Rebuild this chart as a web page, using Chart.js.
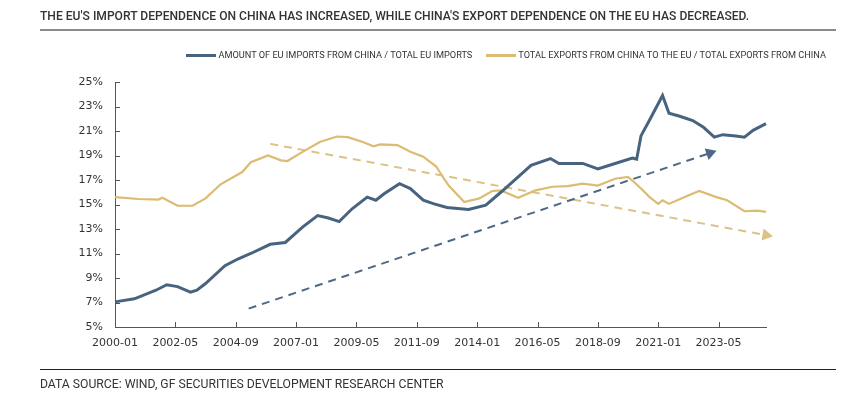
<!DOCTYPE html>
<html>
<head>
<meta charset="utf-8">
<script src="https://cdn.jsdelivr.net/npm/chart.js@4.4.1/dist/chart.umd.min.js"></script>
<style>
  body { margin: 0; background: #fff; }
  #wrap { position: relative; width: 856px; height: 395px; overflow: hidden; }
  #title { position: absolute; left: 40px; top: 9px; font: 500 12.1px "Roboto", sans-serif; color: #333; white-space: nowrap; }
  #rule { position: absolute; left: 40px; top: 29px; width: 796px; height: 2px; background: #8a8a8a; }
  #legend { position: absolute; right: 30px; top: 49px; font: 9.2px "Roboto", sans-serif; color: #333; white-space: nowrap; }
  #legend span.sw { display: inline-block; width: 30px; height: 3px; vertical-align: middle; margin-right: 2px; }
  #legend span.item { margin-left: 14px; }
  #foot-rule { position: absolute; left: 40px; top: 369px; width: 796px; height: 1px; background: #222; }
  #source { position: absolute; left: 40px; top: 377px; font: 12.2px "Roboto", sans-serif; color: #333; white-space: nowrap; }
  #chart-box { position: absolute; left: 0; top: 0; width: 856px; height: 395px; }
</style>
</head>
<body>
<div id="wrap">
  <div id="chart-box"><canvas id="dependence-chart"></canvas></div>
  <div id="title">THE EU'S IMPORT DEPENDENCE ON CHINA HAS INCREASED, WHILE CHINA'S EXPORT DEPENDENCE ON THE EU HAS DECREASED.</div>
  <div id="rule"></div>
  <div id="legend"></div>
  <div id="foot-rule"></div>
  <div id="source">DATA SOURCE: WIND, GF SECURITIES DEVELOPMENT RESEARCH CENTER</div>
</div>
<script>
// monthly categories 2000-01 .. 2025-03
const months = [];
for (let y = 2000; y <= 2025; y++) {
    for (let m = 1; m <= 12; m++) {
        if (y === 2025 && m > 3) break;
        months.push(y + '-' + String(m).padStart(2, '0'));
    }
}
const tickEvery = 28;

// EU imports from China / total EU imports (%)
const importDates = ['2000-01','2000-10','2001-08','2002-01','2002-06','2002-12','2003-03','2003-07','2004-04','2004-10',
    '2005-04','2006-01','2006-08','2007-04','2007-11','2008-04','2008-09','2009-03','2009-10','2010-02',
    '2010-06','2011-01','2011-06','2011-12','2012-05','2012-11','2013-09','2014-05','2014-12','2015-07',
    '2016-02','2016-11','2017-03','2018-02','2018-09','2019-05','2020-01','2020-03','2020-05','2020-09',
    '2021-03','2021-06','2021-11','2022-05','2022-10','2023-03','2023-07','2024-01','2024-05','2024-09','2025-03'];
const importShare = [7.05,7.3,8.0,8.45,8.3,7.85,8.0,8.55,10.0,10.55,
    11.0,11.75,11.9,13.15,14.1,13.9,13.6,14.65,15.6,15.35,
    15.9,16.7,16.3,15.35,15.05,14.75,14.6,14.95,16.0,17.1,
    18.2,18.75,18.35,18.35,17.9,18.35,18.8,18.7,20.6,21.9,
    23.9,22.45,22.2,21.85,21.3,20.5,20.7,20.6,20.5,21.05,21.6];

// China exports to EU / total China exports (%)
const exportDates = ['2000-01','2000-12','2001-09','2001-11','2002-06','2003-01','2003-07','2004-02','2004-12','2005-04',
    '2005-12','2006-06','2006-09','2007-04','2007-12','2008-08','2009-01','2009-08','2010-01','2010-04',
    '2010-12','2011-06','2011-12','2012-06','2012-10','2012-12','2013-07','2014-02','2014-08','2014-12',
    '2015-08','2016-04','2016-12','2017-07','2018-02','2018-09','2019-05','2019-11','2020-02','2020-05',
    '2020-09','2021-01','2021-03','2021-06','2022-01','2022-08','2023-04','2023-09','2024-05','2024-11','2025-03'];
const exportShare = [15.6,15.45,15.4,15.55,14.9,14.9,15.5,16.65,17.65,18.45,
    19.0,18.6,18.55,19.3,20.1,20.55,20.5,20.1,19.75,19.9,
    19.85,19.3,18.9,18.1,17.0,16.5,15.2,15.5,16.1,16.15,
    15.55,16.15,16.45,16.5,16.7,16.55,17.1,17.25,16.8,16.3,
    15.6,15.05,15.35,15.05,15.6,16.1,15.6,15.35,14.45,14.5,14.4];

// hand-drawn trend arrows
const importTrendDates = ['2005-03', '2023-01'];
const importTrend = [6.5, 19.2];
const exportTrendDates = ['2006-01', '2025-03'];
const exportTrend = [19.95, 12.5];

const yTicks = [5, 7, 9, 11, 13, 15, 17, 19, 21, 23, 25];

const blue = '#48637f';
const gold = '#dcbb72';

const pairs = (dates, vals) => dates.map((d, i) => ({ x: d, y: vals[i] }));

// legend
const legendItems = [
    { label: 'AMOUNT OF EU IMPORTS FROM CHINA / TOTAL EU IMPORTS', color: blue },
    { label: 'TOTAL EXPORTS FROM CHINA TO THE EU / TOTAL EXPORTS FROM CHINA', color: gold }
];
document.getElementById('legend').innerHTML = legendItems.map(it =>
    `<span class="item"><span class="sw" style="background:${it.color}"></span>${it.label}</span>`).join('');

// tick marks that point into the plot
const innerTicks = {
    id: 'innerTicks',
    afterDraw(chart) {
        const { ctx, chartArea, scales } = chart;
        ctx.save();
        ctx.strokeStyle = '#555';
        ctx.lineWidth = 1;
        ctx.beginPath();
        scales.x.ticks.forEach((t, i) => {
            if (t.label == null || t.label === '') return;
            const px = Math.round(scales.x.getPixelForTick(i)) + 0.5;
            ctx.moveTo(px, chartArea.bottom);
            ctx.lineTo(px, chartArea.bottom - 5);
        });
        scales.y.ticks.forEach((t, i) => {
            const py = Math.round(scales.y.getPixelForTick(i)) + 0.5;
            ctx.moveTo(chartArea.left, py);
            ctx.lineTo(chartArea.left + 5, py);
        });
        ctx.stroke();
        ctx.restore();
    }
};

const ctx = document.getElementById('dependence-chart').getContext('2d');
const chart = new Chart(ctx, {
    type: 'line',
    data: {
        labels: months,
        datasets: [
            {
                label: 'EU imports',
                data: pairs(importDates, importShare),
                borderColor: blue,
                borderWidth: 3,
                pointRadius: 0,
                tension: 0
            },
            {
                label: 'China exports',
                data: pairs(exportDates, exportShare),
                borderColor: gold,
                borderWidth: 2.2,
                pointRadius: 0,
                tension: 0
            },
            {
                label: 'import trend',
                data: pairs(importTrendDates, importTrend),
                borderColor: '#4f6885',
                backgroundColor: '#4f6885',
                borderWidth: 2,
                borderDash: [8, 6],
                pointStyle: 'triangle',
                pointRadius: [0, 5],
                pointRotation: 71
            },
            {
                label: 'export trend',
                data: pairs(exportTrendDates, exportTrend),
                borderColor: '#dcc285',
                backgroundColor: '#dcc285',
                borderWidth: 2,
                borderDash: [8, 6],
                pointStyle: 'triangle',
                pointRadius: [0, 5],
                pointRotation: 100
            }
        ]
    },
    options: {
        responsive: true,
        maintainAspectRatio: false,
        animation: false,
        layout: { padding: { top: 82, right: 90, bottom: 0, left: 0 } },
        plugins: {
            legend: { display: false },
            tooltip: { enabled: false }
        },
        scales: {
            x: {
                type: 'category',
                afterFit: s => { s.height = 68; },
                grid: { display: false },
                border: { display: true, color: '#555', width: 1 },
                ticks: {
                    autoSkip: false,
                    maxRotation: 0,
                    minRotation: 0,
                    padding: 2,
                    color: '#333',
                    font: { family: 'DejaVu Sans', size: 11 },
                    callback: function (v, i) { return i % tickEvery === 0 ? this.getLabelForValue(v) : null; }
                }
            },
            y: {
                min: 5,
                max: 25,
                afterFit: s => { s.width = 115; },
                afterBuildTicks: s => { s.ticks = yTicks.map(v => ({ value: v })); },
                grid: { display: false },
                border: { display: true, color: '#555', width: 1 },
                ticks: {
                    padding: 4,
                    color: '#333',
                    font: { family: 'DejaVu Sans', size: 11 },
                    callback: v => v + '%'
                }
            }
        }
    },
    plugins: [innerTicks]
});
</script>
</body>
</html>
